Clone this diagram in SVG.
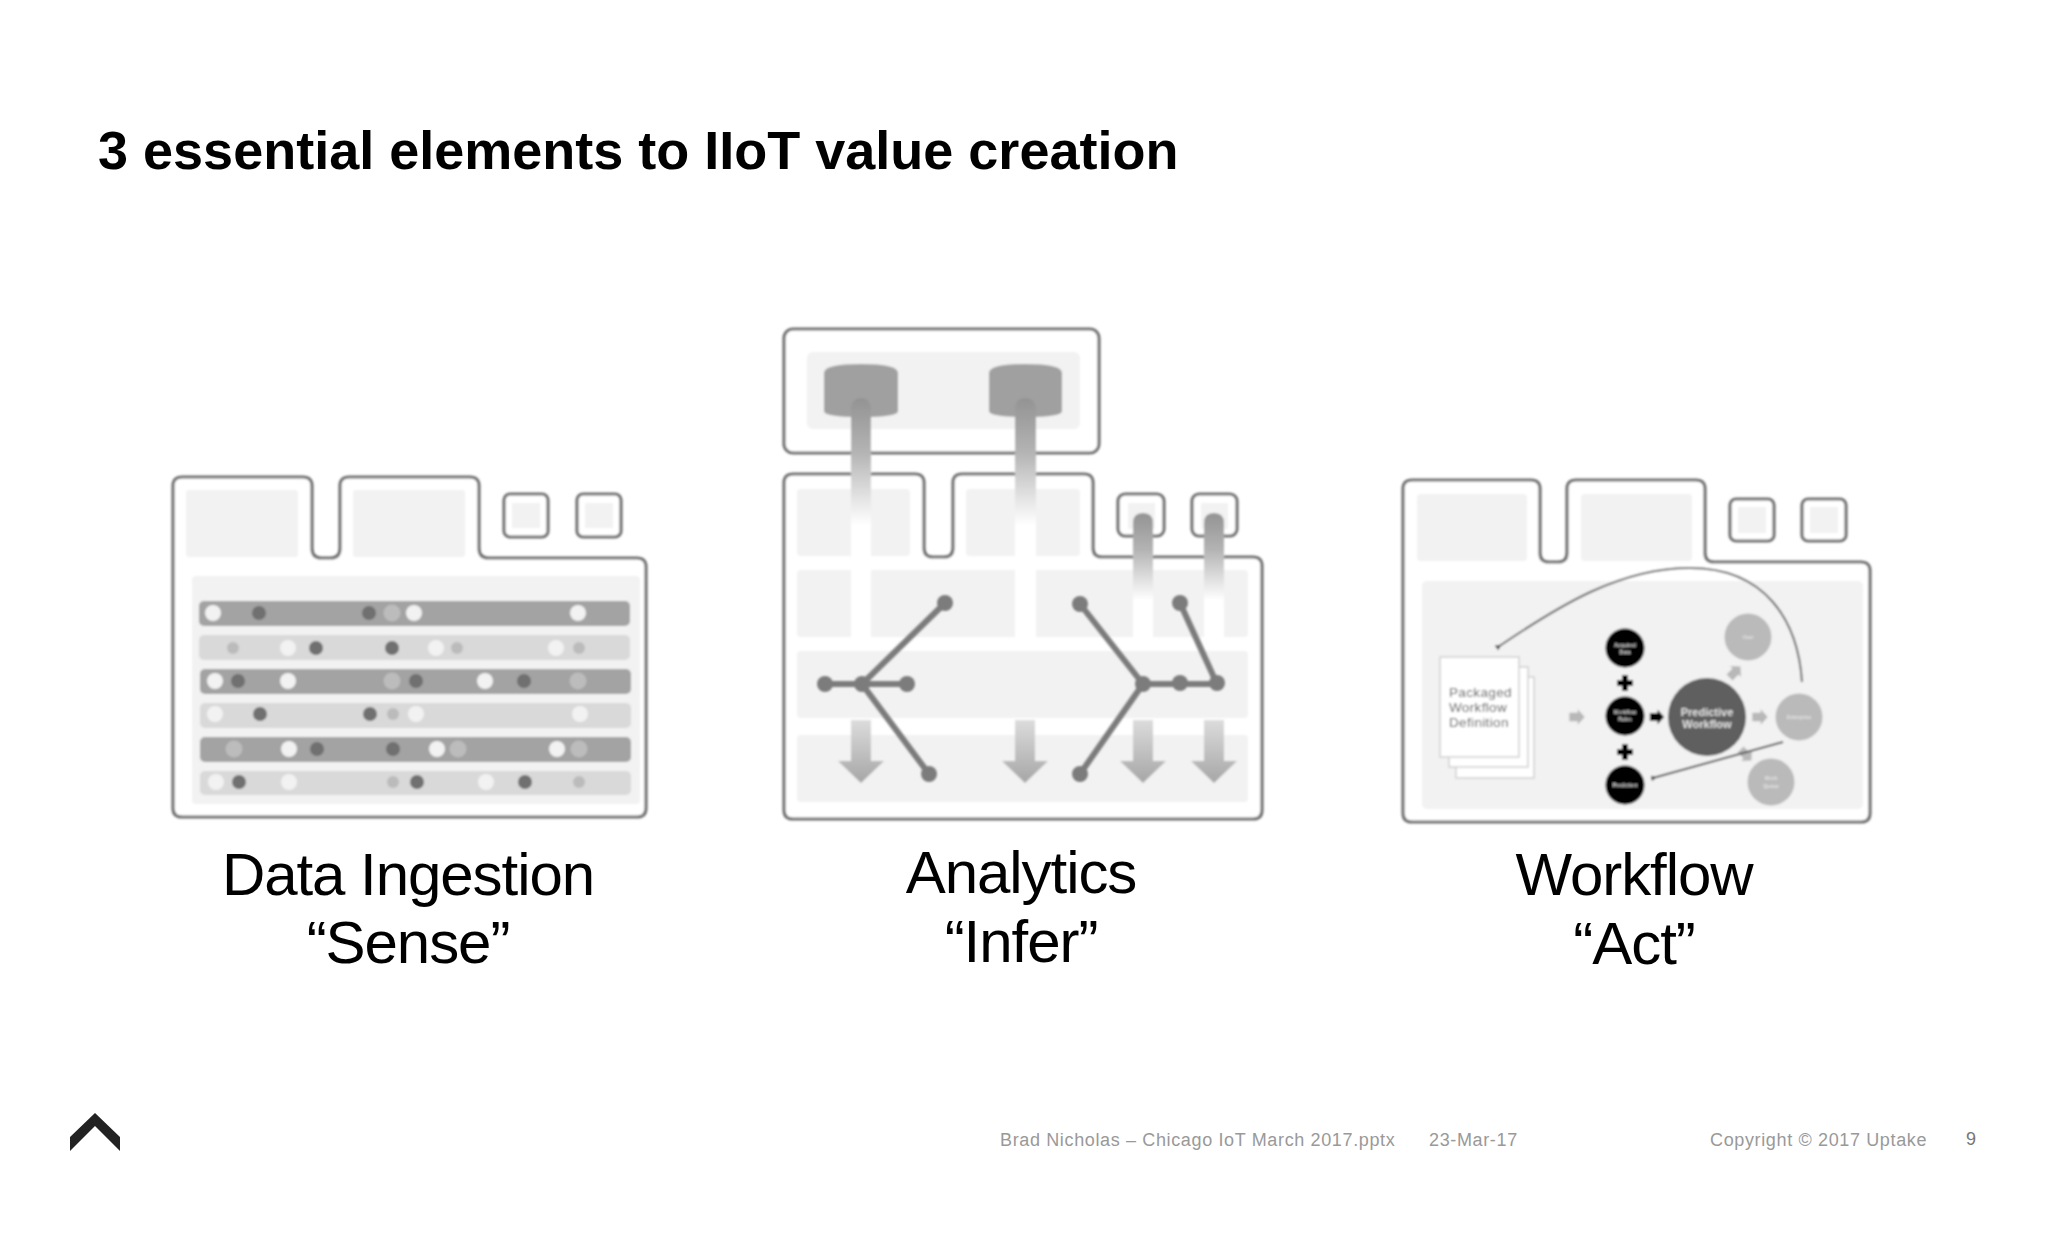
<svg xmlns="http://www.w3.org/2000/svg" xmlns:xlink="http://www.w3.org/1999/xlink" width="2048" height="1243" viewBox="0 0 2048 1243">
<style>
text{font-family:"Liberation Sans",Arial,sans-serif}
.title{font-size:54px;font-weight:700;fill:#000}
.cap{font-size:60px;fill:#000;text-anchor:middle;letter-spacing:-1.05px}
.foot{font-size:18px;fill:#999;letter-spacing:.64px}
.ol{fill:#fff;stroke:#727272;stroke-width:3.200}
.sq{fill:#fff;stroke:#727272;stroke-width:3.200}
.lt{fill:#f2f2f2}
.rd{fill:#a3a3a3}.rl{fill:#d9d9d9}
.w{fill:#f2f2f2}.d{fill:#707070}.m{fill:#bcbcbc}.s{fill:#bbb}
.net{stroke:#7c7c7c;stroke-width:6;fill:none}
.nd{fill:#7c7c7c}
.page{fill:#fff;stroke:#d0d0d0;stroke-width:1.5}
.bk{fill:#000}.gc{fill:#bababa}
.tiny{font-size:5px;font-weight:700;fill:#e4e4e4;text-anchor:middle}
.pk{font-size:13.5px;fill:#555;letter-spacing:.35px}
.pw{font-size:11px;font-weight:700;fill:#e2e2e2;text-anchor:middle}
</style>
<defs>
<filter id="b" x="-5%" y="-5%" width="110%" height="110%"><feGaussianBlur stdDeviation="0.8"/></filter>
<linearGradient id="fade" x1="0" y1="0" x2="0" y2="1"><stop offset="0" stop-color="#939393"/><stop offset="0.43" stop-color="#b4b4b4"/><stop offset="0.7" stop-color="#d8d8d8"/><stop offset="1" stop-color="#fff"/></linearGradient>
<linearGradient id="dn" x1="0" y1="0" x2="0" y2="1"><stop offset="0" stop-color="#dcdcdc"/><stop offset="1" stop-color="#a6a6a6"/></linearGradient>
<marker id="ah" markerWidth="6" markerHeight="6" refX="4" refY="3" orient="auto-start-reverse" markerUnits="userSpaceOnUse"><path d="M6 0L0 3L6 6Z" fill="#555"/></marker>
<g id="dnarrow"><path d="M-10 0H10V41H23L0 63L-23 41H-10Z" fill="url(#dn)"/></g>
<path id="blk" d="M-11 -6H1V-11L11 0L1 11V6H-11Z"/>
</defs>
<rect width="2048" height="1243" fill="#fff"/>
<text class="title" x="98" y="169">3 essential elements to IIoT value creation</text>

<g id="sense" filter="url(#b)">
<path class="ol" d="M182 477H303Q312 477 312 486V548Q312 558 321 558H331Q340 558 340 548V486Q340 477 349 477H470Q479 477 479 486V548Q479 558 488 558H637Q646 558 646 567V808Q646 817 637 817H182Q173 817 173 808V486Q173 477 182 477Z"/>
<rect class="lt" x="186" y="490" width="112" height="67" rx="3"/><rect class="lt" x="353" y="490" width="112" height="67" rx="3"/>
<rect class="sq" x="504" y="494" width="44" height="43" rx="6"/><rect class="lt" x="512" y="503" width="28" height="25"/>
<rect class="sq" x="577" y="494" width="44" height="43" rx="6"/><rect class="lt" x="585" y="503" width="28" height="25"/>
<rect class="lt" x="192" y="576" width="448" height="228" rx="4"/>
<rect class="rd" x="199" y="601" width="431" height="25" rx="5"/><rect class="rl" x="199" y="635" width="431" height="25" rx="5"/><rect class="rd" x="200" y="669" width="431" height="25" rx="5"/><rect class="rl" x="200" y="703" width="431" height="25" rx="5"/><rect class="rd" x="200" y="737" width="431" height="25" rx="5"/><rect class="rl" x="200" y="771" width="431" height="24" rx="5"/>
<g>
<circle class="w" cx="213" cy="613" r="8"/><circle class="d" cx="259" cy="613" r="7"/><circle class="d" cx="369" cy="613" r="7"/><circle class="m" cx="392" cy="613" r="8.500"/><circle class="w" cx="414" cy="613" r="8"/><circle class="w" cx="578" cy="613" r="8"/>
<circle class="s" cx="233" cy="648" r="6"/><circle class="w" cx="288" cy="648" r="8"/><circle class="d" cx="316" cy="648" r="7"/><circle class="d" cx="392" cy="648" r="7"/><circle class="w" cx="436" cy="648" r="8"/><circle class="s" cx="457" cy="648" r="6"/><circle class="w" cx="556" cy="648" r="8"/><circle class="s" cx="579" cy="648" r="6"/>
<circle class="w" cx="215" cy="681" r="8"/><circle class="d" cx="238" cy="681" r="7"/><circle class="w" cx="288" cy="681" r="8"/><circle class="m" cx="392" cy="681" r="8.500"/><circle class="d" cx="416" cy="681" r="7"/><circle class="w" cx="485" cy="681" r="8"/><circle class="d" cx="524" cy="681" r="7"/><circle class="m" cx="578" cy="681" r="8.500"/>
<circle class="w" cx="215" cy="714" r="8"/><circle class="d" cx="260" cy="714" r="7"/><circle class="d" cx="370" cy="714" r="7"/><circle class="s" cx="393" cy="714" r="6"/><circle class="w" cx="416" cy="714" r="8"/><circle class="w" cx="580" cy="714" r="8"/>
<circle class="m" cx="234" cy="749" r="8.500"/><circle class="w" cx="289" cy="749" r="8"/><circle class="d" cx="317" cy="749" r="7"/><circle class="d" cx="393" cy="749" r="7"/><circle class="w" cx="437" cy="749" r="8"/><circle class="m" cx="458" cy="749" r="8.500"/><circle class="w" cx="557" cy="749" r="8"/><circle class="m" cx="579" cy="749" r="8.500"/>
<circle class="w" cx="216" cy="782" r="8"/><circle class="d" cx="239" cy="782" r="7"/><circle class="w" cx="289" cy="782" r="8"/><circle class="s" cx="393" cy="782" r="6"/><circle class="d" cx="417" cy="782" r="7"/><circle class="w" cx="486" cy="782" r="8"/><circle class="d" cx="525" cy="782" r="7"/><circle class="s" cx="579" cy="782" r="6"/>
</g>
</g>
<text class="cap" x="408" y="895">Data Ingestion</text><text class="cap" x="408" y="963">“Sense”</text>

<g id="infer" filter="url(#b)">
<rect class="ol" x="784" y="329" width="315" height="124" rx="9"/>
<rect class="lt" x="807" y="352" width="273" height="77" rx="6"/>
<path class="ol" d="M793 474H915Q924 474 924 483V548Q924 557 933 557H944Q953 557 953 548V483Q953 474 962 474H1084Q1093 474 1093 483V548Q1093 557 1102 557H1253Q1262 557 1262 566V810Q1262 819 1253 819H793Q784 819 784 810V483Q784 474 793 474Z"/>
<rect class="sq" x="1118" y="494" width="46" height="42" rx="7"/><rect class="lt" x="1128" y="503" width="27" height="26"/>
<rect class="sq" x="1192" y="494" width="45" height="42" rx="7"/><rect class="lt" x="1201" y="503" width="27" height="26"/>
<rect class="lt" x="797" y="489" width="113" height="67" rx="4"/><rect class="lt" x="966" y="489" width="114" height="67" rx="4"/>
<rect class="lt" x="797" y="570" width="451" height="67" rx="4"/><rect class="lt" x="797" y="651" width="451" height="67" rx="4"/><rect class="lt" x="797" y="735" width="451" height="67" rx="4"/>
<rect fill="#fff" x="851" y="510" width="20" height="130"/><rect fill="#fff" x="1015" y="510" width="21" height="130"/><rect fill="#fff" x="1133" y="580" width="20" height="60"/><rect fill="#fff" x="1204" y="580" width="20" height="60"/>
<path d="M824 373Q824 364 861 364Q898 364 898 373V411Q898 417 861 417Q824 417 824 411Z" fill="#a0a0a0"/>
<path d="M989 373Q989 364 1025 364Q1062 364 1062 373V411Q1062 417 1025 417Q989 417 989 411Z" fill="#a0a0a0"/>
<path d="M851 410Q851 398 861 398Q871 398 871 410V525H851Z" fill="url(#fade)"/>
<path d="M1015 410Q1015 398 1025 398Q1036 398 1036 410V525H1015Z" fill="url(#fade)"/>
<path d="M1133 523Q1133 513 1143 513Q1153 513 1153 523V600H1133Z" fill="url(#fade)"/>
<path d="M1204 523Q1204 513 1214 513Q1224 513 1224 523V600H1204Z" fill="url(#fade)"/>
<use href="#dnarrow" x="861" y="720"/><use href="#dnarrow" x="1025" y="720"/><use href="#dnarrow" x="1143" y="720"/><use href="#dnarrow" x="1214" y="720"/>
</g>
<g id="connectors" filter="url(#b)">
<path class="net" d="M825 684H907M945 603L862 684L929 774M1080 604L1143 684L1080 774M1143 684H1217L1180 603"/>
<g class="nd"><circle cx="945" cy="603" r="8"/><circle cx="825" cy="684" r="8"/><circle cx="862" cy="684" r="8"/><circle cx="907" cy="684" r="8"/><circle cx="929" cy="774" r="8"/><circle cx="1080" cy="604" r="8"/><circle cx="1143" cy="684" r="8"/><circle cx="1180" cy="683" r="8"/><circle cx="1217" cy="683" r="8"/><circle cx="1180" cy="603" r="8"/><circle cx="1080" cy="774" r="8"/></g>
</g>
<text class="cap" x="1021" y="893">Analytics</text><text class="cap" x="1021" y="962">“Infer”</text>

<g id="act" filter="url(#b)">
<path class="ol" d="M1412 480H1531Q1540 480 1540 489V553Q1540 562 1549 562H1558Q1567 562 1567 553V489Q1567 480 1576 480H1696Q1705 480 1705 489V553Q1705 562 1714 562H1861Q1870 562 1870 571V813Q1870 822 1861 822H1412Q1403 822 1403 813V489Q1403 480 1412 480Z"/>
<rect class="lt" x="1417" y="494" width="110" height="67" rx="4"/><rect class="lt" x="1581" y="494" width="111" height="67" rx="4"/>
<rect class="sq" x="1730" y="499" width="44" height="42" rx="6"/><rect class="lt" x="1738" y="507" width="28" height="26"/>
<rect class="sq" x="1802" y="499" width="44" height="42" rx="6"/><rect class="lt" x="1810" y="507" width="28" height="26"/>
<rect class="lt" x="1422" y="581" width="441" height="228" rx="5"/>
<rect class="page" x="1456" y="677" width="78" height="101"/><rect class="page" x="1449" y="667" width="79" height="100"/><rect class="page" x="1440" y="657" width="79" height="100"/>
<text class="pk" x="1449" y="697">Packaged</text><text class="pk" x="1449" y="712">Workflow</text><text class="pk" x="1449" y="727">Definition</text>
<circle class="bk" cx="1625" cy="648" r="19.500"/><circle class="bk" cx="1625" cy="716" r="19.500"/><circle class="bk" cx="1625" cy="785" r="19.500"/>
<path class="bk" d="M1622 675h6v5h5v6h-5v5h-6v-5h-5v-6h5Z"/>
<path class="bk" d="M1622 744h6v5h5v6h-5v5h-6v-5h-5v-6h5Z"/>
<circle cx="1707" cy="717" r="39" fill="#5f5f5f"/>
<circle class="gc" cx="1748" cy="637" r="23.500"/><circle class="gc" cx="1799" cy="717" r="23.500"/><circle class="gc" cx="1771" cy="782" r="23.500"/>
<g fill="#b8b8b8"><use href="#blk" transform="translate(1577 717) scale(.7)"/><use href="#blk" transform="translate(1760 717) scale(.7)"/><use href="#blk" transform="translate(1735 672) rotate(-45) scale(.7)"/><use href="#blk" transform="translate(1746 755) rotate(45) scale(.7)"/></g>
<use href="#blk" fill="#000" transform="translate(1657 717) scale(.65)"/>
<path d="M1802 682C1798 620 1765 568 1690 568C1620 568 1560 605 1498 647" fill="none" stroke="#666" stroke-width="2" marker-end="url(#ah)"/>
<path d="M1783 742L1653 778" fill="none" stroke="#555" stroke-width="2" marker-end="url(#ah)"/>
<text class="pw" x="1707" y="716">Predictive</text><text class="pw" x="1707" y="728">Workflow</text>
<text class="tiny" x="1625" y="647">Acquired</text><text class="tiny" x="1625" y="654">Data</text>
<text class="tiny" x="1625" y="714">Workflow</text><text class="tiny" x="1625" y="721">Rules</text>
<text class="tiny" x="1625" y="787">Prediction</text>
<text class="tiny" x="1748" y="639">User</text>
<text class="tiny" x="1799" y="719">Enterprise</text>
<text class="tiny" x="1771" y="780">Work</text><text class="tiny" x="1771" y="788">Queue</text>
</g>
<text class="cap" x="1634" y="895">Workflow</text><text class="cap" x="1634" y="964">“Act”</text>

<g id="logo"><polygon points="95,1113 120,1137 120,1151 95,1126 70,1151 70,1137" fill="#222"/></g>
<text class="foot" x="1000" y="1146">Brad Nicholas – Chicago IoT March 2017.pptx</text>
<text class="foot" x="1429" y="1146">23-Mar-17</text>
<text class="foot" x="1710" y="1146">Copyright © 2017 Uptake</text>
<text class="foot" x="1966" y="1145" style="fill:#777">9</text>
</svg>
